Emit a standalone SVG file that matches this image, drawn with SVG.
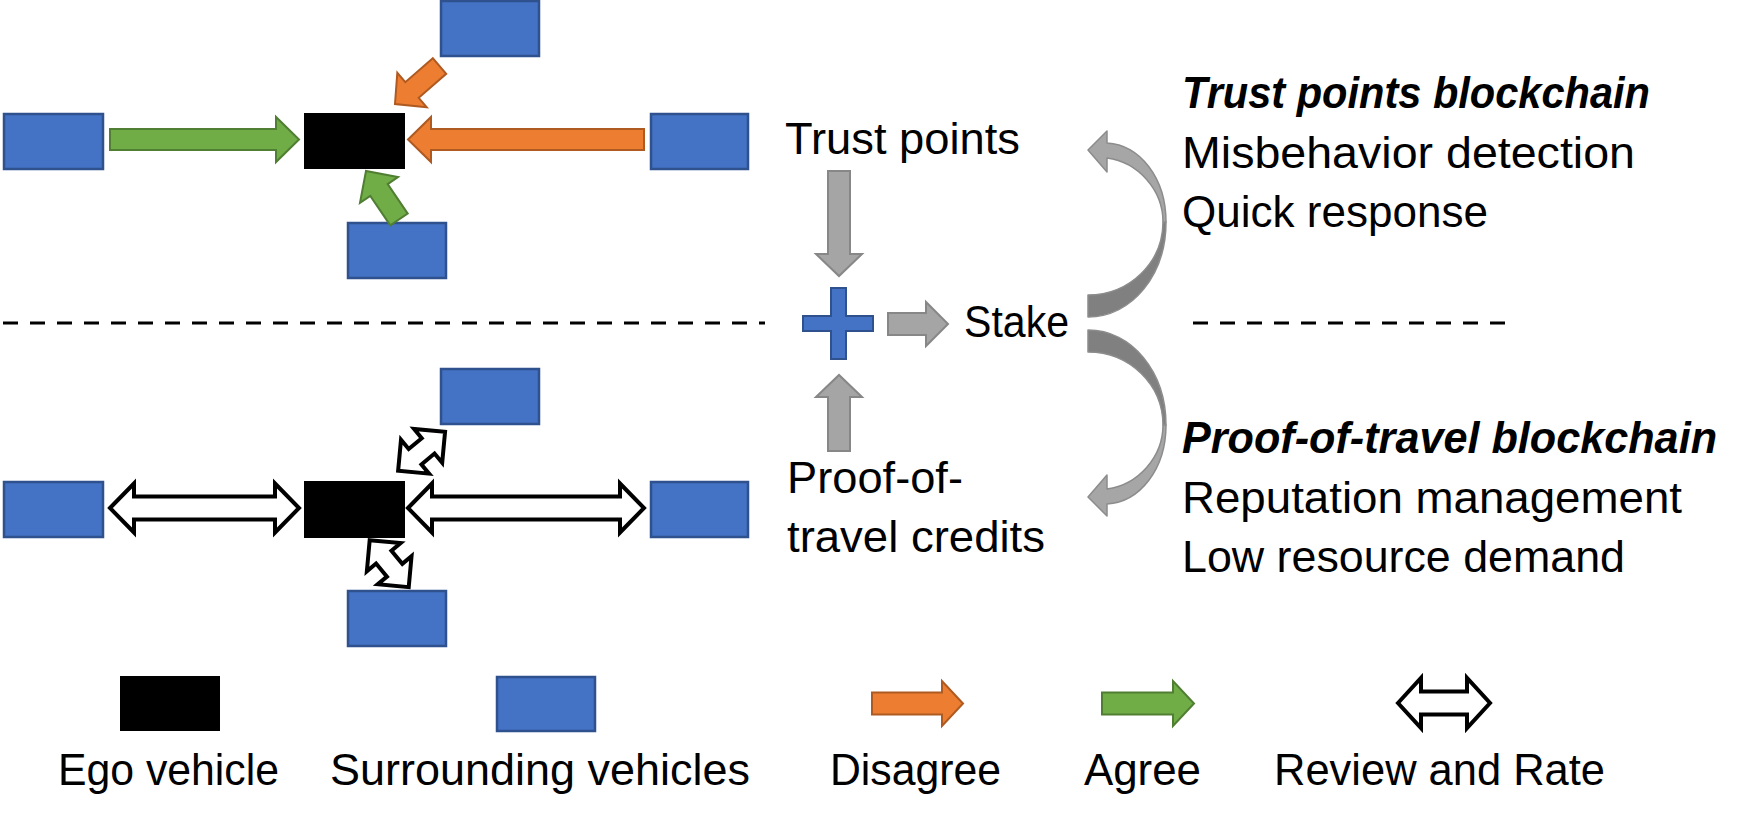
<svg xmlns="http://www.w3.org/2000/svg" width="1748" height="829" viewBox="0 0 1748 829">
<style>
.veh{fill:#4472c4;stroke:#2f528f;stroke-width:2.5}
.ego{fill:#000}
.agree{fill:#70ad47;stroke:#507e32;stroke-width:2;stroke-linejoin:miter}
.dis{fill:#ed7d31;stroke:#ae5a21;stroke-width:2;stroke-linejoin:miter}
.rr{fill:#fff;stroke:#000;stroke-width:4;stroke-linejoin:miter}
.gray{fill:#a5a5a5;stroke:#878787;stroke-width:2}
.cl{fill:#a6a6a6;stroke:#8c8c8c;stroke-width:1.5;stroke-linejoin:round}
.cd{fill:#808080;stroke:#8c8c8c;stroke-width:1.5;stroke-linejoin:round}
.dash{stroke:#000;stroke-width:3;stroke-dasharray:15 12;fill:none}
text{font-family:"Liberation Sans",Arial,sans-serif;font-size:45px;fill:#000}
.bi{font-weight:bold;font-style:italic}
</style>
<defs>
<path id="curve" d="M1088,317 C1132,317 1166,275 1166,222 L1163,222 C1163,262 1130,295 1088,295 Z"/>
<path id="curveL" d="M1166,222 C1166,178 1140,145 1107,143 L1107,131 L1088,150 L1107,172 L1107,158 C1138,162 1163,190 1163,222 Z"/>
<polygon id="small" points="-30.5,0 -8.5,-22 -8.5,-10 8.5,-10 8.5,-22 30.5,0 8.5,22 8.5,10 -8.5,10 -8.5,22"/>
</defs>

<g id="dividers">
<line class="dash" x1="3" y1="323" x2="765" y2="323"/>
<line class="dash" x1="1193" y1="323" x2="1505" y2="323"/>
</g>

<g id="top-scene">
<g id="t-north"><rect class="veh" x="441" y="1" width="98" height="55"/></g>
<g id="t-west"><rect class="veh" x="4" y="114" width="99" height="55"/></g>
<g id="t-ego"><rect class="ego" x="304" y="113" width="101" height="56"/></g>
<g id="t-east"><rect class="veh" x="651" y="114" width="97" height="55"/></g>
<g id="t-south"><rect class="veh" x="348" y="223" width="98" height="55"/></g>
</g>

<g id="bottom-scene">
<g id="b-north"><rect class="veh" x="441" y="369" width="98" height="55"/></g>
<g id="b-west"><rect class="veh" x="4" y="482" width="99" height="55"/></g>
<g id="b-ego"><rect class="ego" x="304" y="481" width="101" height="57"/></g>
<g id="b-east"><rect class="veh" x="651" y="482" width="97" height="55"/></g>
<g id="b-south"><rect class="veh" x="348" y="591" width="98" height="55"/></g>
</g>

<g id="plus"><polygon fill="#4472c4" stroke="#2f528f" stroke-width="2" points="831,288 846,288 846,316 873,316 873,331 846,331 846,359 831,359 831,331 803,331 803,316 831,316"/></g>

<g id="labels">
<g id="trust-points"><text x="785" y="154" textLength="235" lengthAdjust="spacingAndGlyphs">Trust points</text></g>
<g id="stake"><text x="964" y="337" textLength="105" lengthAdjust="spacingAndGlyphs">Stake</text></g>
<g id="pot-credits">
<text x="787" y="493" textLength="176" lengthAdjust="spacingAndGlyphs">Proof-of-</text>
<text x="787" y="552" textLength="258" lengthAdjust="spacingAndGlyphs">travel credits</text>
</g>
<g id="tp-chain">
<text class="bi" x="1182" y="108" textLength="468" lengthAdjust="spacingAndGlyphs">Trust points blockchain</text>
<text x="1182" y="168" textLength="453" lengthAdjust="spacingAndGlyphs">Misbehavior detection</text>
<text x="1182" y="227" textLength="306" lengthAdjust="spacingAndGlyphs">Quick response</text>
</g>
<g id="pot-chain">
<text class="bi" x="1182" y="453" textLength="535" lengthAdjust="spacingAndGlyphs">Proof-of-travel blockchain</text>
<text x="1182" y="513" textLength="500" lengthAdjust="spacingAndGlyphs">Reputation management</text>
<text x="1182" y="572" textLength="443" lengthAdjust="spacingAndGlyphs">Low resource demand</text>
</g>
</g>

<g id="connectors">
<polygon class="agree" points="110,129 276,129 276,117 299,139.5 276,162 276,150 110,150"/>
<polygon class="dis" points="644,129 431,129 431,117 408,139.5 431,162 431,150 644,150"/>
<polygon class="dis" points="432.8,58.2 405.3,82.2 397.3,72.8 395,104 426.7,107.2 418.7,97.8 446.2,73.8"/>
<polygon class="agree" points="390.3,225.4 370.3,195.9 360,202.9 366,171 398,177.1 387.7,184.1 407.7,213.6"/>

<polygon class="rr" points="110,508 134,483.5 134,496.5 275,496.5 275,483.5 299,508 275,532.5 275,519.5 134,519.5 134,532.5"/>
<polygon class="rr" points="408,508 432,483.5 432,496.5 620,496.5 620,483.5 644,508 620,532.5 620,519.5 432,519.5 432,532.5"/>
<use href="#small" class="rr" transform="translate(421.6,451.3) rotate(-39.7)"/>
<use href="#small" class="rr" transform="translate(389.2,563.7) rotate(50.2)"/>

<polygon class="gray" points="828,171 850,171 850,254 862,254 839,276 816,254 828,254"/>
<polygon class="gray" points="888,313 926,313 926,302 948,324 926,346 926,335 888,335"/>
<polygon class="gray" points="828,451 828,397 816,397 839,375 862,397 850,397 850,451"/>

<g id="curve-up">
<use href="#curve" class="cd"/>
<use href="#curveL" class="cl"/>
</g>
<g id="curve-down" transform="matrix(1,0,0,-1,0,647)">
<use href="#curve" class="cd"/>
<use href="#curveL" class="cl"/>
</g>
</g>

<g id="legend">
<g id="lg-ego"><rect class="ego" x="120" y="676" width="100" height="55"/><text x="58" y="785" textLength="221" lengthAdjust="spacingAndGlyphs">Ego vehicle</text></g>
<g id="lg-sur"><rect class="veh" x="497" y="677" width="98" height="54"/><text x="330" y="785" textLength="420" lengthAdjust="spacingAndGlyphs">Surrounding vehicles</text></g>
<g id="lg-dis"><polygon class="dis" points="872,692.5 942,692.5 942,681 963,703.5 942,726 942,714.5 872,714.5"/><text x="830" y="785" textLength="171" lengthAdjust="spacingAndGlyphs">Disagree</text></g>
<g id="lg-agree"><polygon class="agree" points="1102,692.5 1173,692.5 1173,681 1194,703.5 1173,726 1173,714.5 1102,714.5"/><text x="1084" y="785" textLength="117" lengthAdjust="spacingAndGlyphs">Agree</text></g>
<g id="lg-rr"><polygon class="rr" stroke-width="3" points="1398,703 1421,678 1421,691.5 1467,691.5 1467,678 1490,703 1467,728 1467,714.5 1421,714.5 1421,728"/><text x="1274" y="785" textLength="331" lengthAdjust="spacingAndGlyphs">Review and Rate</text></g>
</g>
</svg>
